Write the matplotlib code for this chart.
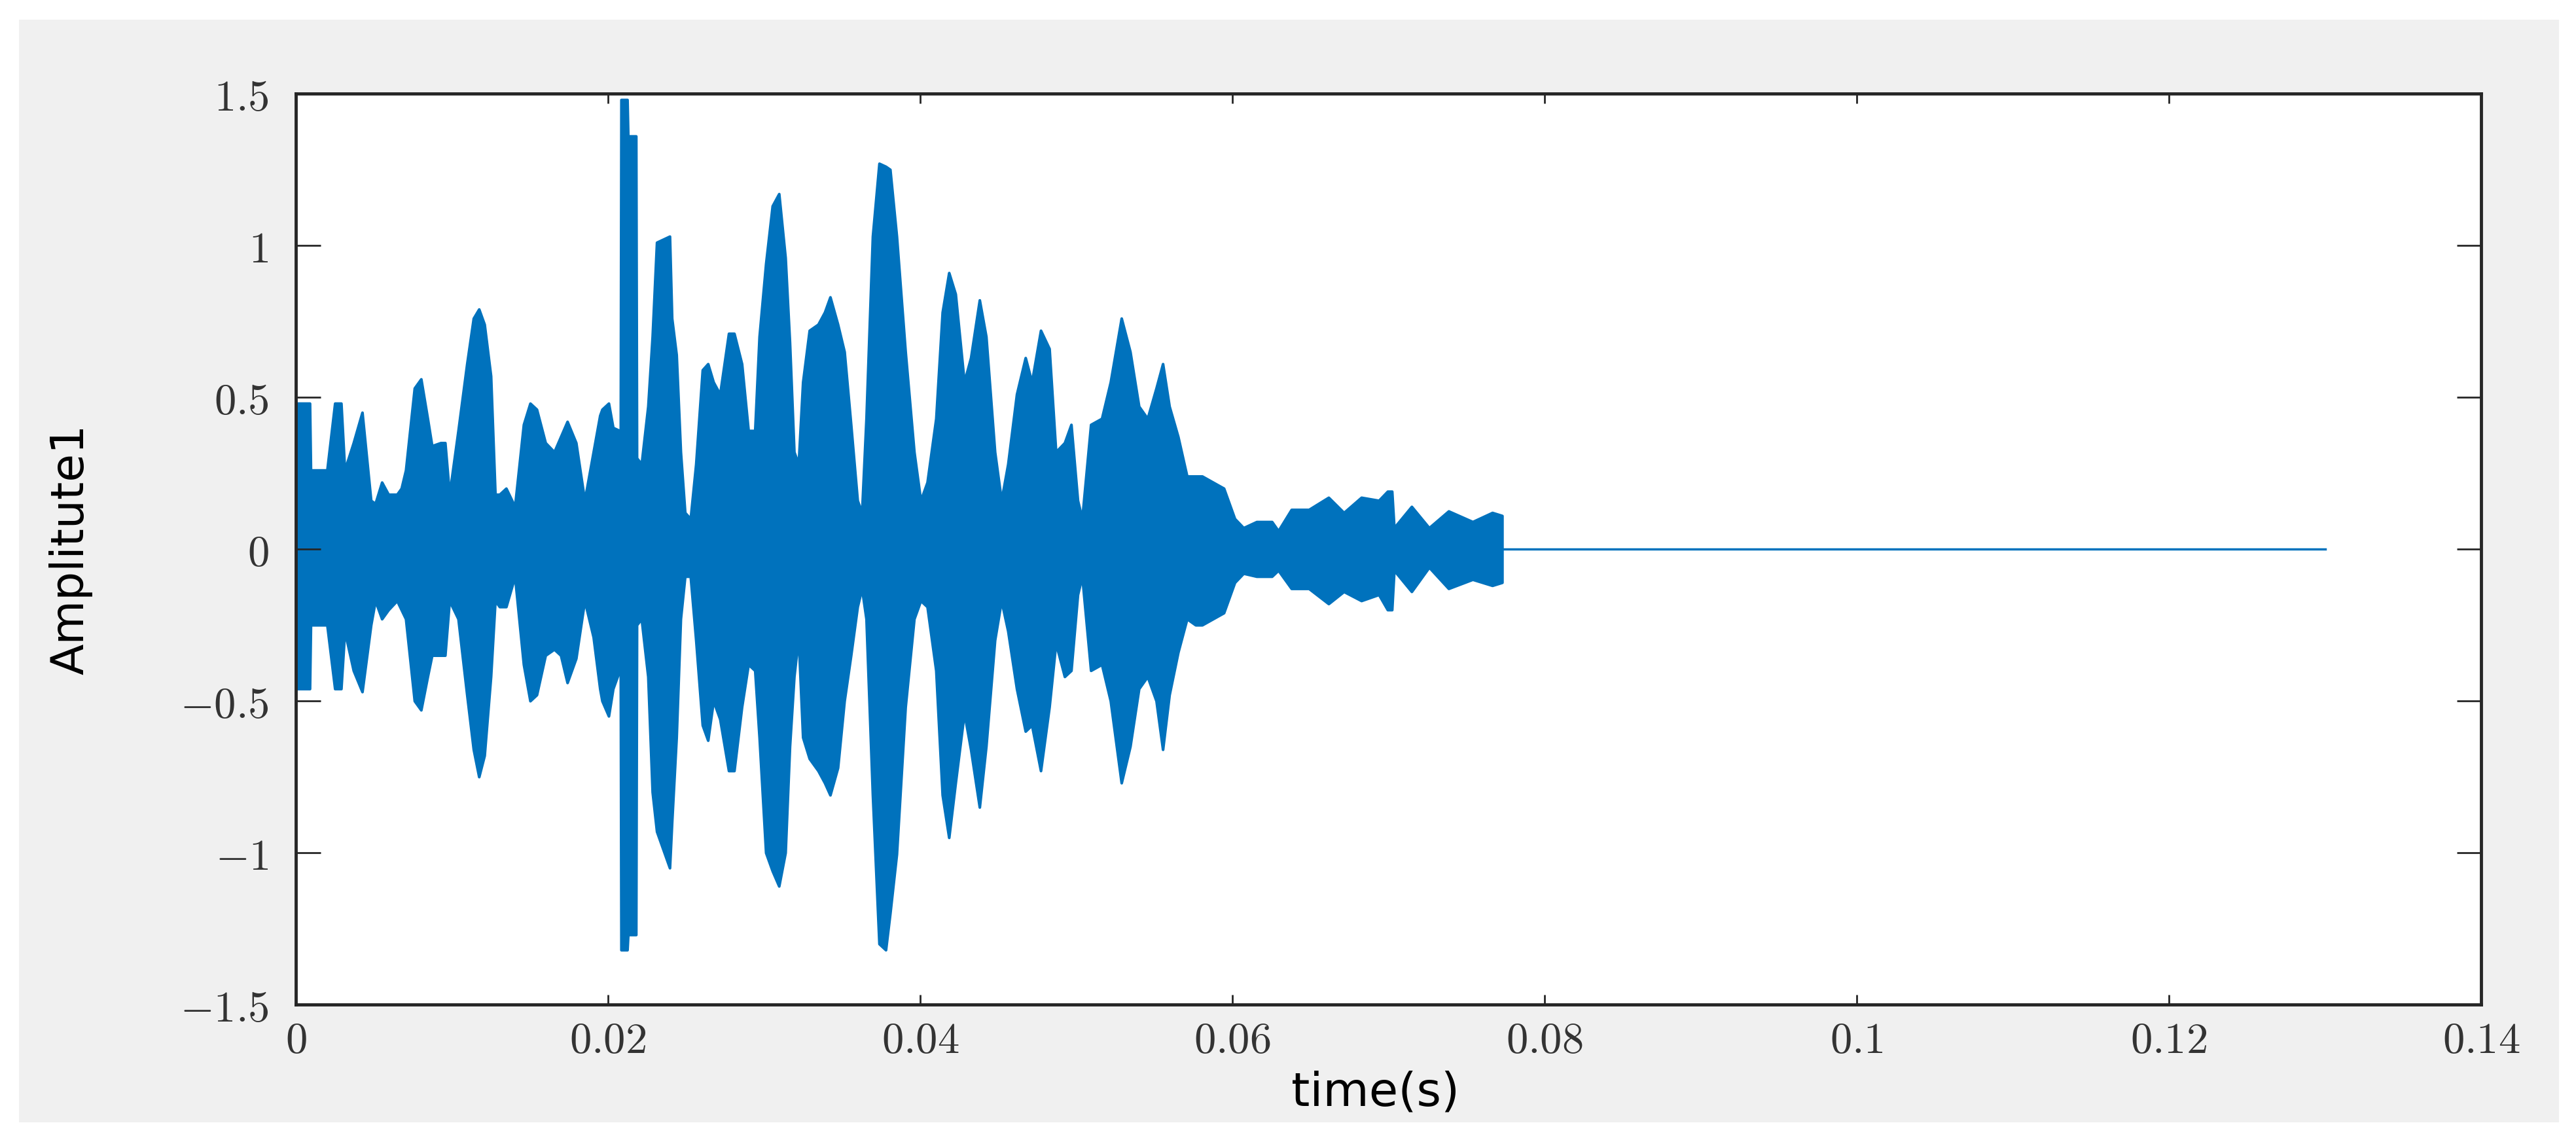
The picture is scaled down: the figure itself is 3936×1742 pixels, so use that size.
import numpy as np
import matplotlib.pyplot as plt
from matplotlib.patches import Rectangle

# envelope of the waveform (time in ms)
t_ms = [0.0, 0.89, 0.95, 2.0, 2.5, 2.9, 3.13, 3.69, 4.25, 4.81, 5.09, 5.51, 5.93,
        6.48, 6.76, 7.04, 7.60, 8.02, 8.44, 8.72, 9.28, 9.56, 9.84, 10.40, 10.96,
        11.38, 11.73, 12.08, 12.49, 12.77, 13.05, 13.47, 14.03, 14.59, 15.01, 15.43,
        15.99, 16.55, 16.97, 17.39, 17.95, 18.50, 19.06, 19.48, 19.62, 20.04, 20.32,
        20.74, 20.80, 20.84, 21.23, 21.28, 21.79, 21.84, 22.14, 22.56, 22.84, 23.12,
        23.95, 24.09, 24.38, 24.65, 24.93, 25.28, 25.63, 26.05, 26.40, 26.75, 27.17,
        27.73, 28.08, 28.57, 28.99, 29.41, 29.69, 30.11, 30.53, 30.95, 31.36, 31.64,
        31.92, 32.20, 32.48, 32.90, 33.46, 33.88, 34.23, 34.72, 35.14, 35.56, 35.98,
        36.26, 36.54, 36.95, 37.37, 37.79, 38.07, 38.49, 39.05, 39.61, 40.03, 40.45,
        41.01, 41.42, 41.84, 42.26, 42.82, 43.24, 43.80, 44.22, 44.78, 45.20, 45.62,
        46.18, 46.74, 47.15, 47.72, 48.27, 48.69, 49.25, 49.67, 50.09, 50.37, 50.93,
        51.63, 52.19, 52.89, 53.45, 54.01, 54.56, 55.12, 55.54, 55.96, 56.52, 57.09,
        57.64, 58.06, 59.45, 60.15, 60.71, 61.55, 62.53, 62.94, 63.78, 64.90, 66.16,
        67.14, 68.26, 69.38, 69.94, 70.22, 70.36, 71.48, 72.60, 73.85, 75.39, 76.65,
        77.28]
env_upper = [0.48, 0.48, 0.26, 0.26, 0.48, 0.48, 0.26, 0.35, 0.45, 0.16, 0.15, 0.22, 0.18,
             0.18, 0.20, 0.26, 0.53, 0.56, 0.43, 0.34, 0.35, 0.35, 0.18, 0.39, 0.61,
             0.76, 0.79, 0.74, 0.57, 0.18, 0.18, 0.20, 0.14, 0.41, 0.48, 0.46,
             0.35, 0.32, 0.37, 0.42, 0.35, 0.16, 0.32, 0.44, 0.46, 0.48, 0.40,
             0.39, 0.39, 1.48, 1.48, 1.36, 1.36, 0.30, 0.28, 0.47, 0.70, 1.01,
             1.03, 0.76, 0.64, 0.32, 0.12, 0.10, 0.28, 0.59, 0.61, 0.55, 0.51,
             0.71, 0.71, 0.61, 0.39, 0.39, 0.70, 0.94, 1.13, 1.17, 0.96, 0.68,
             0.32, 0.28, 0.55, 0.72, 0.74, 0.78, 0.83, 0.74, 0.65, 0.41, 0.16,
             0.12, 0.43, 1.03, 1.27, 1.26, 1.25, 1.03, 0.65, 0.32, 0.16, 0.22,
             0.43, 0.78, 0.91, 0.84, 0.55, 0.63, 0.82, 0.70, 0.32, 0.16, 0.28,
             0.51, 0.63, 0.55, 0.72, 0.66, 0.32, 0.35, 0.41, 0.16, 0.10, 0.41,
             0.43, 0.55, 0.76, 0.65, 0.47, 0.43, 0.53, 0.61, 0.47, 0.37, 0.24,
             0.24, 0.24, 0.20, 0.10, 0.07, 0.09, 0.09, 0.06, 0.13, 0.13, 0.17,
             0.12, 0.17, 0.16, 0.19, 0.19, 0.07, 0.14, 0.07, 0.125, 0.09, 0.12,
             0.11]
env_lower = [-0.46, -0.46, -0.25, -0.25, -0.46, -0.46, -0.27, -0.40, -0.47, -0.25, -0.17, -0.23, -0.20,
             -0.17, -0.20, -0.23, -0.50, -0.53, -0.42, -0.35, -0.35, -0.35, -0.17, -0.23, -0.48,
             -0.66, -0.75, -0.68, -0.42, -0.17, -0.19, -0.19, -0.09, -0.38, -0.50, -0.48,
             -0.35, -0.33, -0.35, -0.44, -0.36, -0.17, -0.29, -0.46, -0.50, -0.55, -0.46,
             -0.40, -0.40, -1.32, -1.32, -1.27, -1.27, -0.25, -0.23, -0.42, -0.80, -0.93,
             -1.05, -0.90, -0.62, -0.23, -0.09, -0.09, -0.30, -0.58, -0.63, -0.50, -0.56,
             -0.73, -0.73, -0.52, -0.38, -0.40, -0.62, -1.00, -1.06, -1.11, -1.00, -0.65,
             -0.42, -0.29, -0.62, -0.69, -0.73, -0.77, -0.81, -0.72, -0.50, -0.35, -0.19,
             -0.13, -0.23, -0.81, -1.30, -1.32, -1.20, -1.005, -0.52, -0.23, -0.17, -0.19,
             -0.40, -0.81, -0.95, -0.77, -0.54, -0.66, -0.85, -0.65, -0.30, -0.17, -0.27,
             -0.46, -0.60, -0.58, -0.73, -0.52, -0.31, -0.42, -0.40, -0.15, -0.09, -0.40,
             -0.38, -0.50, -0.77, -0.65, -0.46, -0.42, -0.50, -0.66, -0.48, -0.34, -0.23,
             -0.25, -0.25, -0.21, -0.11, -0.08, -0.09, -0.09, -0.07, -0.13, -0.13, -0.18,
             -0.14, -0.17, -0.15, -0.20, -0.20, -0.07, -0.14, -0.06, -0.13, -0.10, -0.12,
             -0.11]

# flat part after the signal ends
tail_t = [0.07728, 0.13]
tail_amp = [0.0, 0.0]

xticks = [0, 0.02, 0.04, 0.06, 0.08, 0.1, 0.12, 0.14]
xtick_labels = ["0", "0.02", "0.04", "0.06", "0.08", "0.1", "0.12", "0.14"]
yticks = [-1.5, -1, -0.5, 0, 0.5, 1, 1.5]
ytick_labels = ["-1.5", "-1", "-0.5", "0", "0.5", "1", "1.5"]

plt.rcParams["mathtext.fontset"] = "cm"

W, H = 3936, 1742
fig = plt.figure(figsize=(W / 100, H / 100), dpi=100, facecolor="white")
# matlab-like grey panel
fig.add_artist(Rectangle((29 / W, 27 / H), (3910 - 29) / W, (1712 - 27) / H,
                         transform=fig.transFigure, facecolor="#f0f0f0",
                         edgecolor="none", zorder=-10))

ax = fig.add_axes([452 / W, 1 - 1535 / H, (3791 - 452) / W, (1535 - 143) / H])
blue = "#0072bd"
t = np.array(t_ms) / 1000.0
ax.fill_between(t, env_lower, env_upper, facecolor=blue, edgecolor=blue, lw=3)
ax.plot(tail_t, tail_amp, color=blue, lw=2.5)

ax.set_xlim(0, 0.14)
ax.set_ylim(-1.5, 1.5)
ax.set_xticks(xticks)
ax.set_xticklabels(["$%s$" % s for s in xtick_labels])
ax.set_yticks(yticks)
ax.set_yticklabels(["$%s$" % s for s in ytick_labels])

dark = "#262626"
for sp in ax.spines.values():
    sp.set_linewidth(3.5)
    sp.set_color(dark)
ax.tick_params(axis="both", direction="in", top=True, right=True,
               width=2, color=dark, labelcolor="#333333", labelsize=48)
ax.tick_params(axis="x", length=11, pad=16)
ax.tick_params(axis="y", length=27, pad=30)

ax.set_xlabel("time(s)", fontsize=52, family="DejaVu Sans", color="black")
ax.xaxis.set_label_coords(0.494, -0.072)
ax.xaxis.label.set_va("top")
ax.set_ylabel("Amplitute1", fontsize=50,
              family=["Liberation Sans Narrow", "DejaVu Sans"], color="black")
ax.yaxis.set_label_coords(-0.093, 0.5)

fig.savefig("out.png", dpi=100, facecolor="white")
